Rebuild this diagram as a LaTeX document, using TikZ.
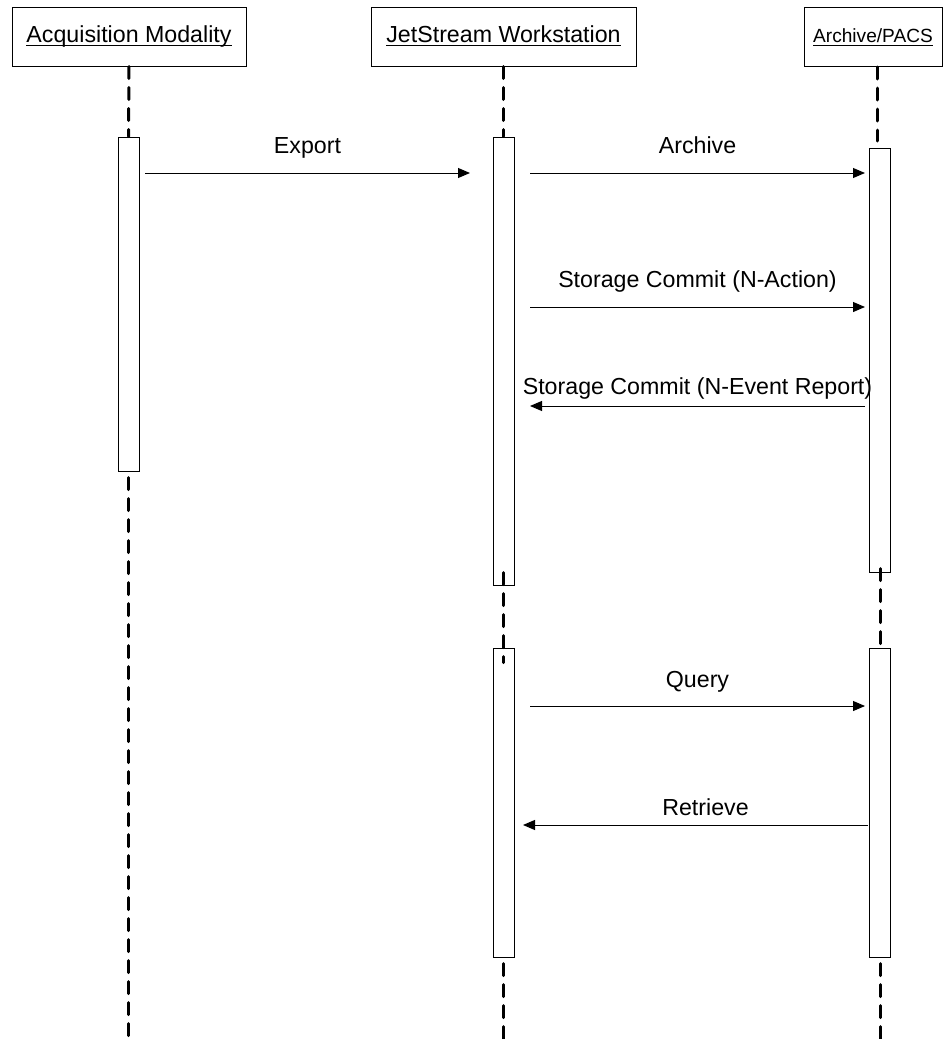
\documentclass[tikz,border=0pt]{standalone}
\usepackage{fontspec}
\setmainfont{Liberation Sans}
\usetikzlibrary{arrows.meta}

\tikzset{
  actor/.style={draw, line width=0.5pt, inner sep=0pt, minimum height=29.5pt, text height=8.5pt, text depth=2.5pt, font=\fontsize{11.6}{13}\selectfont},
  bar/.style={draw, fill=white, line width=0.5pt, inner sep=0pt, minimum width=10.5pt},
  life/.style={line width=1.5pt, dash pattern=on 6pt off 4.5pt, line cap=round},
  msg/.style={line width=0.5pt, -{Triangle[length=6pt,width=5pt]}},
  lbl/.style={font=\fontsize{11.6}{13}\selectfont, text height=8.5pt, text depth=2.5pt, midway}
}

\begin{document}
\begin{tikzpicture}[x=0.5pt, y=-0.5pt]
\useasboundingbox (0,0) rectangle (943,1039);

% objects
\node[actor, minimum width=117pt] (acq) at (129,36.5) {\underbar{Acquisition Modality}};
\node[actor, minimum width=132.5pt] (jet) at (503.5,36.5) {\underbar{JetStream Workstation}};
\node[actor, minimum width=69pt, font=\fontsize{9.55}{11}\selectfont] (pacs) at (873,36.5) {\underbar{Archive/PACS}};

% activations
\node[bar, minimum height=167pt] (acqA) at (128.5,304) {};
\node[bar, minimum height=224pt] (jetA) at (503.5,361) {};
\node[bar, minimum height=212pt] (pacsA) at (880,360) {};
\node[bar, minimum height=154.5pt] (jetB) at (503.5,802.5) {};
\node[bar, minimum height=154.5pt] (pacsB) at (880,802.5) {};

\coordinate (acqEnd) at (128.5,1039);
\coordinate (jetEnd) at (503.5,1039);
\coordinate (pacsEnd) at (880,1039);
\coordinate (pacsT) at (877,67);
\coordinate (pacsU) at (877,141);

% lifelines
\draw[life] (acq.south) -- (acqA.north);
\draw[life] ([yshift=-3pt]acqA.south) -- (acqEnd);
\draw[life] (jet.south) -- (jetA.north);
\draw[life] ([yshift=6.5pt]jetA.south) -- ([yshift=-7.5pt]jetB.north);
\draw[life] ([yshift=-3pt]jetB.south) -- (jetEnd);
\draw[life] (pacsT) -- (pacsU);
\draw[life] ([yshift=2pt]pacsA.south) -- ([yshift=-2.5pt]pacsB.north);
\draw[life] ([yshift=-3pt]pacsB.south) -- (pacsEnd);

% messages
\coordinate (ex1) at (145,173);  \coordinate (ex2) at (470,173);
\coordinate (ar1) at (530,173);  \coordinate (ar2) at (865,173);
\coordinate (na1) at (530,307);  \coordinate (na2) at (865,307);
\coordinate (ne1) at (865,406);  \coordinate (ne2) at (530,406);
\coordinate (qu1) at (530,706);  \coordinate (qu2) at (865,706);
\coordinate (re1) at (868,825);  \coordinate (re2) at (523,825);

\draw[msg] (ex1) -- node[lbl, yshift=12.8pt]{Export} (ex2);
\draw[msg] (ar1) -- node[lbl, yshift=12.8pt]{Archive} (ar2);
\draw[msg] (na1) -- node[lbl, yshift=12.8pt]{Storage Commit (N-Action)} (na2);
\draw[msg] (ne1) -- node[lbl, yshift=8.8pt]{Storage Commit (N-Event Report)} (ne2);
\draw[msg] (qu1) -- node[lbl, yshift=12.5pt]{Query} (qu2);
\draw[msg] (re1) -- node[lbl, yshift=7.8pt, xshift=5pt]{Retrieve} (re2);
\end{tikzpicture}
\end{document}
